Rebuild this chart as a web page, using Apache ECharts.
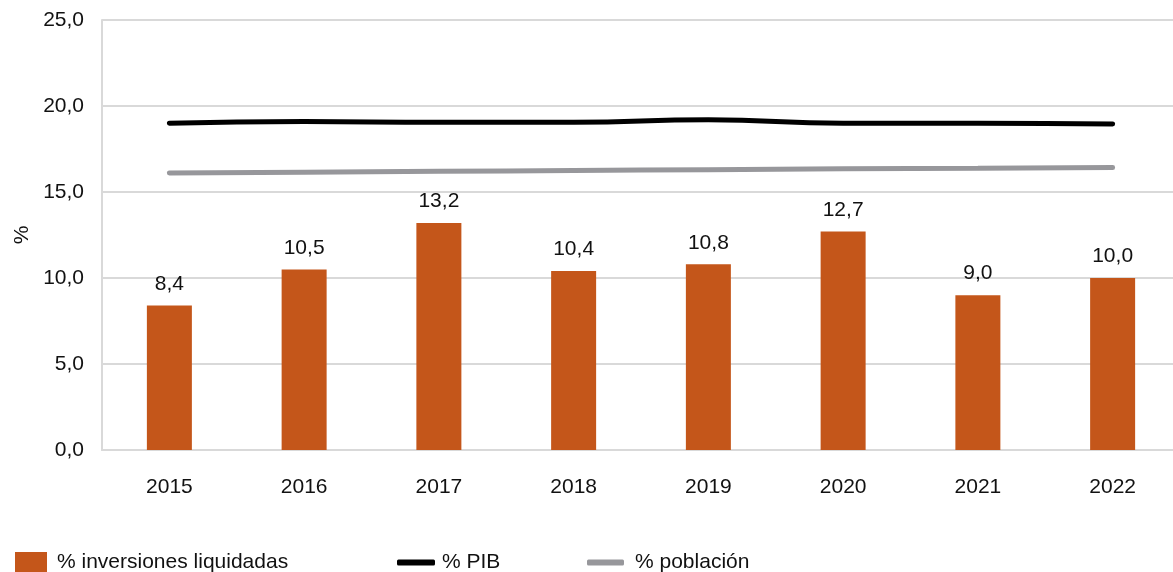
<!DOCTYPE html>
<html><head><meta charset="utf-8">
<script src="https://cdn.jsdelivr.net/npm/echarts@6/dist/echarts.min.js"></script>
<style>html,body{margin:0;padding:0;background:#fff;overflow:hidden}#c{width:1180px;height:572px}</style>
</head><body><div id="c"></div>
<script>
const categories = ['2015','2016','2017','2018','2019','2020','2021','2022'];
const inversiones = [8.4,10.5,13.2,10.4,10.8,12.7,9.0,10.0];
const pib = [19.0,19.1,19.05,19.05,19.2,19.0,19.0,18.95];
const poblacion = [16.1,16.15,16.2,16.25,16.3,16.35,16.38,16.42];
const yTicks = [0,5,10,15,20,25];

const font = 'Liberation Sans, Arial, Helvetica, sans-serif';
const chart = echarts.init(document.getElementById('c'));
const legText = {fontSize: 21, color: '#111', fontFamily: font};
chart.setOption({
  animation: false,
  textStyle: {fontFamily: font},
  grid: {left: 102, top: 20, right: 0, height: 430, containLabel: false},
  legend: [
    {data: [{name: '% inversiones liquidadas', icon: 'rect'}], left: 10, top: 547, itemWidth: 32, itemHeight: 21,
     textStyle: Object.assign({padding: [0,0,0,5]}, legText)},
    {data: [{name: '% PIB', icon: 'roundRect'}], left: 392, top: 547, itemWidth: 38, itemHeight: 6,
     textStyle: Object.assign({padding: [0,0,0,2]}, legText)},
    {data: [{name: '% población', icon: 'roundRect'}], left: 582, top: 547, itemWidth: 37, itemHeight: 6,
     textStyle: Object.assign({padding: [0,0,0,6]}, legText)}
  ],
  xAxis: {
    type: 'category', data: categories,
    axisLine: {show: true, lineStyle: {color: '#d9d9d9', width: 2}},
    axisTick: {show: false},
    axisLabel: {fontSize: 21, color: '#111', margin: 27, fontFamily: font}
  },
  yAxis: {
    type: 'value', min: 0, max: 25, interval: 5,
    name: '%', nameLocation: 'middle', nameGap: 69, nameRotate: 90,
    nameTextStyle: {fontSize: 21, color: '#111', fontFamily: font},
    axisLine: {show: true, lineStyle: {color: '#d9d9d9', width: 2}},
    axisTick: {show: false},
    splitLine: {lineStyle: {color: '#d9d9d9', width: 2}},
    axisLabel: {fontSize: 21, color: '#111', margin: 18, fontFamily: font,
      formatter: v => yTicks.includes(v) ? v.toFixed(1).replace('.', ',') : ''}
  },
  series: [
    {name: '% inversiones liquidadas', type: 'bar', data: inversiones, barWidth: 45,
     itemStyle: {color: '#C4561A'},
     label: {show: true, position: 'top', distance: 11, fontSize: 21, color: '#111', fontFamily: font,
       formatter: p => p.value.toFixed(1).replace('.', ',')}},
    {name: '% PIB', type: 'line', data: pib, smooth: true, symbol: 'none',
     lineStyle: {color: '#000', width: 5, cap: 'round'}, itemStyle: {color: '#000'}},
    {name: '% población', type: 'line', data: poblacion, smooth: true, symbol: 'none',
     lineStyle: {color: '#97979b', width: 5, cap: 'round'}, itemStyle: {color: '#97979b'}}
  ]
});
</script></body></html>
